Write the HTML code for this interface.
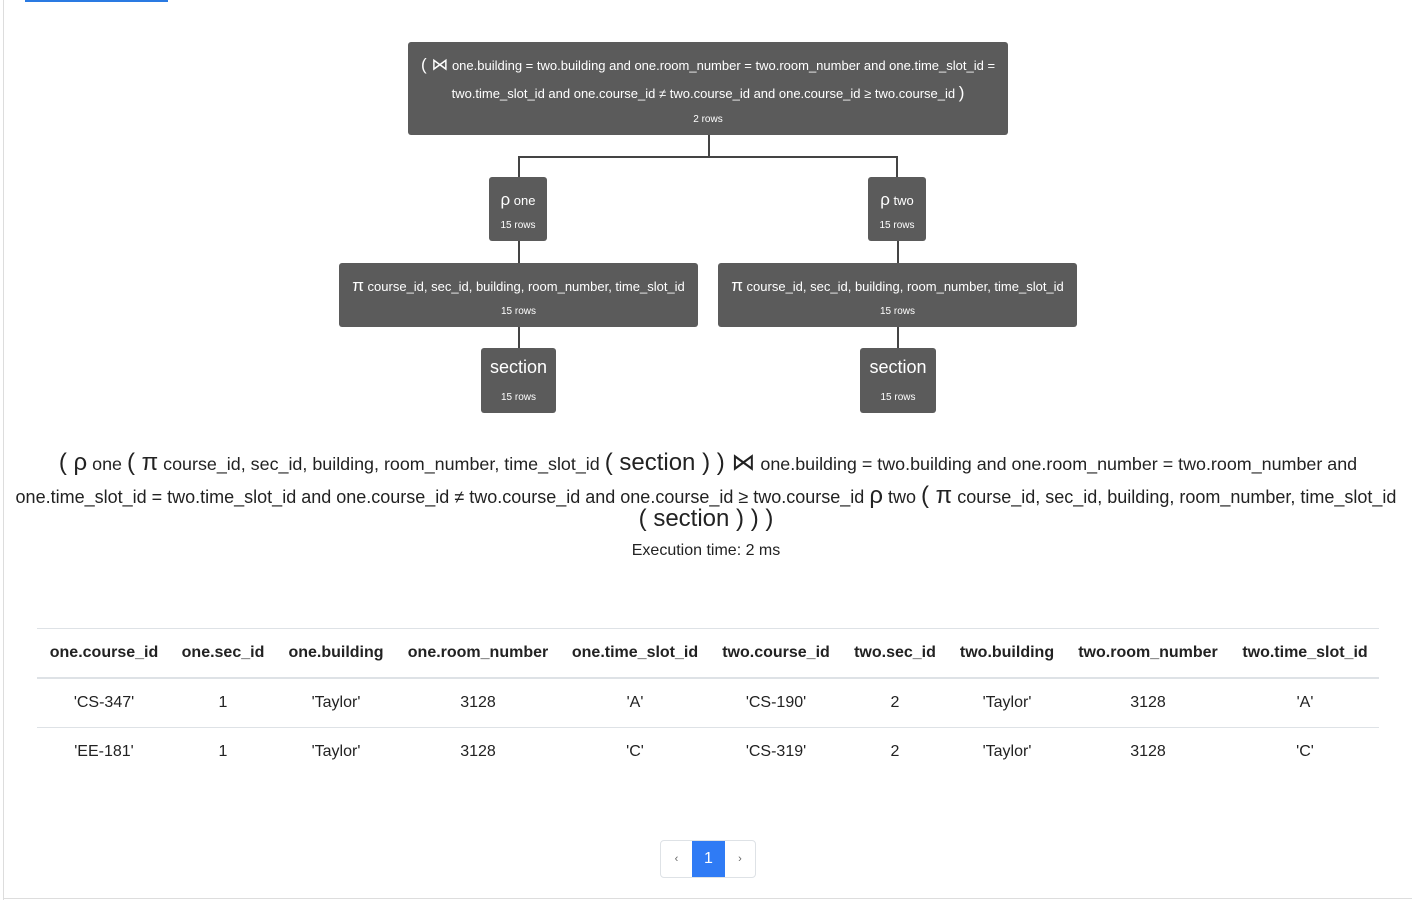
<!DOCTYPE html>
<html><head><meta charset="utf-8"><style>
body{margin:0;width:1412px;height:902px;background:#fff;font-family:"Liberation Sans",Arial,sans-serif;color:#222;position:relative;overflow:hidden}
.a{position:absolute}
.n{position:absolute;background:#5b5b5b;color:#fff;border-radius:3px;text-align:center}
.l{position:absolute;background:#444}
.r{font-size:10px;position:absolute;left:0;right:0}
.t{font-size:13px;position:absolute;left:0;right:0;white-space:nowrap}
.big{font-size:17px}
.line{position:absolute;left:0;width:1412px;text-align:center;font-size:17.9px;white-space:nowrap}
.s{font-size:24px}
table{position:absolute;left:37px;top:628px;width:1342px;border-collapse:collapse;font-size:16px;table-layout:fixed}
th{height:48px;font-weight:bold;border-top:1px solid #dee2e6;border-bottom:2px solid #dee2e6;text-align:center;padding:0}
td{height:48px;border-bottom:1px solid #dee2e6;text-align:center;padding:0}
</style></head><body>
<div class="a" style="left:25px;top:0;width:143px;height:2px;background:#2a7ae2"></div>
<div class="a" style="left:3px;top:0;width:1px;height:900px;background:#ddd"></div>
<div class="a" style="left:3px;top:898px;width:1409px;height:1px;background:#ddd"></div>

<div class="l" style="left:708px;top:135px;width:2px;height:22px"></div>
<div class="l" style="left:518px;top:156px;width:380px;height:2px"></div>
<div class="l" style="left:518px;top:156px;width:2px;height:21px"></div>
<div class="l" style="left:896px;top:156px;width:2px;height:21px"></div>
<div class="l" style="left:518px;top:241px;width:2px;height:22px"></div>
<div class="l" style="left:897px;top:241px;width:2px;height:22px"></div>
<div class="l" style="left:518px;top:327px;width:2px;height:21px"></div>
<div class="l" style="left:897px;top:327px;width:2px;height:21px"></div>

<div class="n" style="left:408px;top:42px;width:600px;height:93px">
<div class="t" style="top:13px"><span class="big">( ⋈</span> one.building = two.building and one.room_number = two.room_number and one.time_slot_id =</div>
<div class="t" style="top:41px">two.time_slot_id and one.course_id ≠ two.course_id and one.course_id ≥ two.course_id <span class="big">)</span></div>
<div class="r" style="top:72px">2 rows</div></div>

<div class="n" style="left:489px;top:177px;width:58px;height:64px"><div class="t" style="top:13px"><span class="big">ρ</span> one</div><div class="r" style="top:43px">15 rows</div></div>
<div class="n" style="left:868px;top:177px;width:58px;height:64px"><div class="t" style="top:13px"><span class="big">ρ</span> two</div><div class="r" style="top:43px">15 rows</div></div>

<div class="n" style="left:339px;top:263px;width:359px;height:64px"><div class="t" style="top:13px"><span class="big">π</span> course_id, sec_id, building, room_number, time_slot_id</div><div class="r" style="top:43px">15 rows</div></div>
<div class="n" style="left:718px;top:263px;width:359px;height:64px"><div class="t" style="top:13px"><span class="big">π</span> course_id, sec_id, building, room_number, time_slot_id</div><div class="r" style="top:43px">15 rows</div></div>

<div class="n" style="left:481px;top:348px;width:75px;height:65px"><div class="t" style="top:9px;font-size:18px">section</div><div class="r" style="top:44px">15 rows</div></div>
<div class="n" style="left:860px;top:348px;width:76px;height:65px"><div class="t" style="top:9px;font-size:18px">section</div><div class="r" style="top:44px">15 rows</div></div>

<div class="line" style="top:448px;left:2px"><span class="s">( ρ</span> one <span class="s">( π</span> course_id, sec_id, building, room_number, time_slot_id <span class="s">( section ) ) ⋈</span> one.building = two.building and one.room_number = two.room_number and</div>
<div class="line" style="top:482px;left:0;font-size:18px">one.time_slot_id = two.time_slot_id and one.course_id ≠ two.course_id and one.course_id ≥ two.course_id <span class="s">ρ</span> two <span class="s">( π</span> course_id, sec_id, building, room_number, time_slot_id</div>
<div class="line" style="top:505px;left:0"><span class="s">( section ) ) )</span></div>
<div class="line" style="top:542px;font-size:16px">Execution time: 2 ms</div>

<table>
<colgroup><col style="width:134px"><col style="width:104px"><col style="width:122px"><col style="width:162px"><col style="width:152px"><col style="width:130px"><col style="width:108px"><col style="width:116px"><col style="width:166px"><col style="width:148px"></colgroup>
<tr><th>one.course_id</th><th>one.sec_id</th><th>one.building</th><th>one.room_number</th><th>one.time_slot_id</th><th>two.course_id</th><th>two.sec_id</th><th>two.building</th><th>two.room_number</th><th>two.time_slot_id</th></tr>
<tr><td>'CS-347'</td><td>1</td><td>'Taylor'</td><td>3128</td><td>'A'</td><td>'CS-190'</td><td>2</td><td>'Taylor'</td><td>3128</td><td>'A'</td></tr>
<tr><td style="border:none">'EE-181'</td><td style="border:none">1</td><td style="border:none">'Taylor'</td><td style="border:none">3128</td><td style="border:none">'C'</td><td style="border:none">'CS-319'</td><td style="border:none">2</td><td style="border:none">'Taylor'</td><td style="border:none">3128</td><td style="border:none">'C'</td></tr>
</table>

<div class="a" style="left:660px;top:840px;width:94px;height:36px;border:1px solid #dee2e6;border-radius:4px;overflow:hidden">
<div class="a" style="left:0;top:0;width:31px;height:36px;text-align:center;line-height:36px;font-size:11px;color:#666">‹</div>
<div class="a" style="left:31px;top:0;width:33px;height:36px;background:#2f7bf5;color:#fff;text-align:center;line-height:36px;font-size:16px">1</div>
<div class="a" style="left:64px;top:0;width:30px;height:36px;text-align:center;line-height:36px;font-size:11px;color:#666">›</div>
</div>
</body></html>
